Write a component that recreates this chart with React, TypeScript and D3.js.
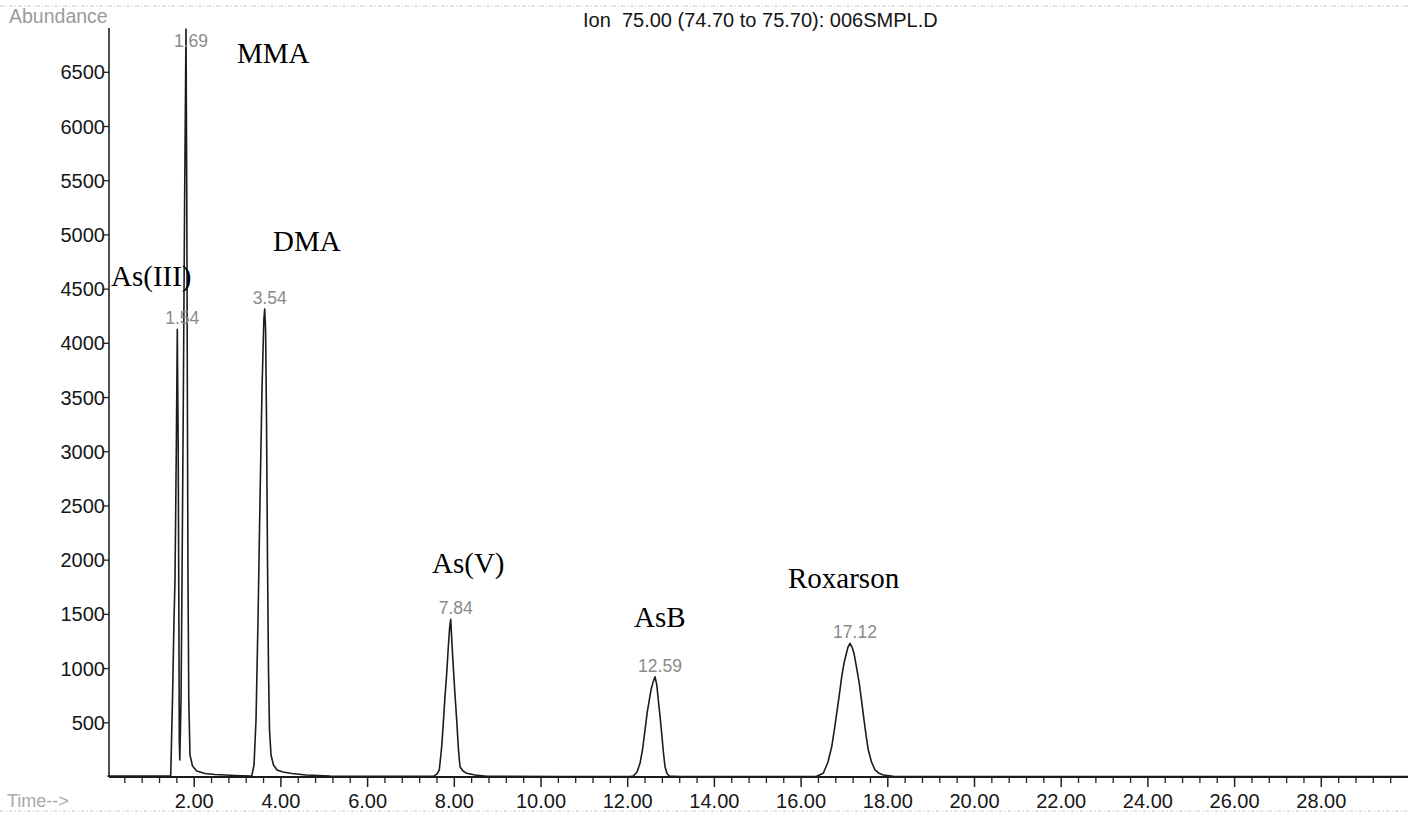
import React from "react";
import * as d3 from "d3";

// ---- data ----
const traceTime = [
  0.0, 0.6, 1.2, 1.44, 1.458, 1.499, 1.534, 1.557, 1.587, 1.61, 1.631, 1.645, 1.656, 1.668,
  1.696, 1.719, 1.749, 1.779, 1.811, 1.829, 1.843, 1.857, 1.875, 1.903, 1.961, 2.058, 2.249,
  2.48, 2.94, 3.29, 3.326, 3.38, 3.426, 3.472, 3.518, 3.564, 3.606, 3.626, 3.647, 3.668, 3.691,
  3.714, 3.737, 3.772, 3.829, 3.91, 4.048, 4.256, 4.579, 5.13, 6.5, 7.53, 7.601, 7.654, 7.709,
  7.746, 7.785, 7.825, 7.862, 7.894, 7.917, 7.963, 8.009, 8.055, 8.097, 8.131, 8.201, 8.286,
  8.478, 8.754, 10.5, 12.05, 12.129, 12.215, 12.284, 12.341, 12.399, 12.452, 12.498, 12.537,
  12.577, 12.63, 12.671, 12.706, 12.745, 12.784, 12.821, 12.86, 12.906, 12.96, 13.206, 15.0,
  16.09, 16.36, 16.512, 16.62, 16.706, 16.766, 16.821, 16.881, 16.937, 16.99, 17.036, 17.082,
  17.128, 17.174, 17.22, 17.282, 17.342, 17.398, 17.451, 17.504, 17.55, 17.624, 17.705, 17.797,
  17.896, 18.127, 20.0, 24.0, 27.0, 30.0,
];
const traceAbundance = [
  8, 9, 8, 8, 10, 710, 1448, 1817, 3016, 4130, 3016, 1633, 341, 157,
  710, 1817, 3477, 5322, 6900, 5322, 3477, 1817, 710, 203, 101, 55, 32,
  23, 14, 9, 8, 111, 526, 1448, 2555, 3570, 4215, 4317, 4123, 3293, 2002,
  987, 434, 203, 111, 65, 46, 32, 18, 9, 6, 8, 28, 65, 279,
  495, 741, 956, 1202, 1386, 1454, 1110, 802, 526, 249, 95, 55, 34,
  18, 6, 5, 5, 9, 46, 126, 249, 433, 600, 710, 802,
  864, 925, 849, 710, 563, 403, 240, 95, 32, 9, 5, 5,
  5, 6, 34, 138, 279, 433, 587, 756, 925, 1051, 1125, 1199,
  1233, 1199, 1141, 1005, 864, 692, 526, 369, 249, 138, 65, 34,
  18, 6, 5, 4, 5, 4,
];

const rtLabels = ["1.54", "1.69", "3.54", "7.84", "12.59", "17.12"];
const peakApexTime = [1.61, 1.811, 3.626, 7.917, 12.63, 17.128];
const peakApexAbundance = [4130, 6900, 4317, 1454, 925, 1233];

const compoundNames = ["As(III)", "MMA", "DMA", "As(V)", "AsB", "Roxarson"];
const compoundAnchorTime = [0.081, 2.987, 3.818, 7.486, 12.145, 15.698];
const compoundAnchorAbundance = [4529, 6586, 4852, 1882, 1384, 1743];

const yTicks = [500, 1000, 1500, 2000, 2500, 3000, 3500, 4000, 4500, 5000, 5500, 6000, 6500];
const xMajorTicks = [2, 4, 6, 8, 10, 12, 14, 16, 18, 20, 22, 24, 26, 28];
const xMinorStep = 0.4;
const xMax = 30;

const titleText = "Ion  75.00 (74.70 to 75.70): 006SMPL.D";

// ---- layout ----
const W = 1410;
const H = 817;
const axisX = 109;
const axisTop = 28;
const baseY = 777;

const sans = "'Liberation Sans', Arial, sans-serif";
const serif = "'Liberation Serif', 'Times New Roman', serif";

export default function App() {
  const x = d3.scaleLinear().domain([0, xMax]).range([107.5, 1408]);
  const y = d3.scaleLinear().domain([0, 6500]).range([baseY, 72.3]);

  const pts: [number, number][] = traceTime.map((t, i) => [t, traceAbundance[i]]);
  const line = d3
    .line<[number, number]>()
    .x((d) => x(d[0]))
    .y((d) => y(d[1]))
    .curve(d3.curveLinear);

  const minorTicks = d3.range(xMinorStep, xMax, xMinorStep).filter(
    (t) => Math.abs(t / 2 - Math.round(t / 2)) > 1e-6
  );

  return (
    <svg
      width={W}
      height={H}
      viewBox={`0 0 ${W} ${H}`}
      style={{ position: "absolute", left: 0, top: 0, background: "#fff" }}
    >
      <rect x={0} y={0} width={W} height={H} fill="#fff" />
      {/* scan border lines */}
      <line x1={0} x2={W} y1={6} y2={6} stroke="#c4c4c4" strokeWidth={1.2} strokeDasharray="4 2 1 2" />
      <line x1={0} x2={W} y1={811} y2={811} stroke="#c8c8c8" strokeWidth={1.2} strokeDasharray="3 3 1 2" />

      {/* headers */}
      <text x={9} y={23} fontFamily={sans} fontSize={19.5} fill="#9a9a9a">
        Abundance
      </text>
      <text x={583} y={26.5} fontFamily={sans} fontSize={20} fill="#151515" style={{ whiteSpace: "pre" }}>
        {titleText}
      </text>
      <text x={7} y={807} fontFamily={sans} fontSize={18} fill="#a8a8a8">
        {"Time-->"}
      </text>

      {/* y axis */}
      <line x1={axisX} x2={axisX} y1={axisTop} y2={baseY} stroke="#222" strokeWidth={1.6} />
      {yTicks.map((v) => (
        <g key={v}>
          <line x1={axisX - 5} x2={axisX} y1={y(v)} y2={y(v)} stroke="#222" strokeWidth={1.3} />
          <text
            x={axisX - 4}
            y={y(v)}
            dy="0.35em"
            textAnchor="end"
            fontFamily={sans}
            fontSize={20}
            fill="#161616"
          >
            {v}
          </text>
        </g>
      ))}

      {/* x axis */}
      <line x1={axisX} x2={1408} y1={baseY} y2={baseY} stroke="#1a1a1a" strokeWidth={2} />
      {minorTicks.map((t) => (
        <line key={"m" + t} x1={x(t)} x2={x(t)} y1={baseY} y2={baseY + 6} stroke="#222" strokeWidth={1.3} />
      ))}
      {xMajorTicks.map((t) => (
        <g key={"M" + t}>
          <line x1={x(t)} x2={x(t)} y1={baseY} y2={baseY + 10} stroke="#222" strokeWidth={1.5} />
          <text x={x(t)} y={808} textAnchor="middle" fontFamily={sans} fontSize={20} fill="#161616">
            {d3.format(".2f")(t)}
          </text>
        </g>
      ))}

      {/* trace */}
      <path d={line(pts) || ""} fill="none" stroke="#1c1c1c" strokeWidth={1.6} strokeLinejoin="round" />

      {/* retention time labels */}
      {rtLabels.map((lab, i) => (
        <text
          key={lab}
          x={x(peakApexTime[i]) + 5}
          y={Math.max(y(peakApexAbundance[i]) - 5, 47)}
          textAnchor="middle"
          fontFamily={sans}
          fontSize={17.5}
          fill="#8a8a8a"
        >
          {lab}
        </text>
      ))}

      {/* compound labels */}
      {compoundNames.map((n, i) => (
        <text
          key={n}
          x={x(compoundAnchorTime[i])}
          y={y(compoundAnchorAbundance[i])}
          fontFamily={serif}
          fontSize={29}
          fill="#000"
        >
          {n}
        </text>
      ))}
    </svg>
  );
}
